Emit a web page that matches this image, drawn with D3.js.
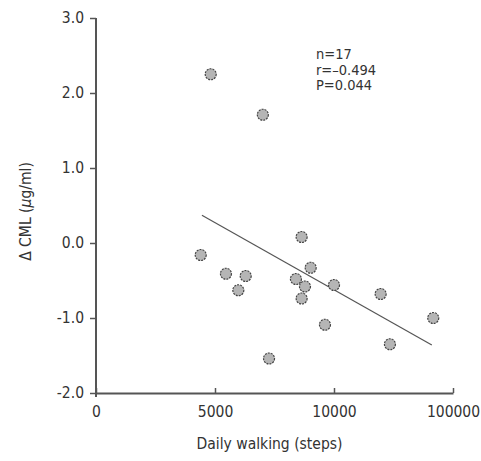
<!DOCTYPE html>
<html>
<head>
<meta charset="utf-8">
<script src="https://cdn.jsdelivr.net/npm/d3@7"></script>
<style>
  body { margin: 0; background: #fff; }
  text { font-family: "DejaVu Sans Condensed", "Liberation Sans Narrow", sans-serif; fill: #333; }
</style>
</head>
<body>
<div id="chart"></div>
<script>
// Daily walking steps vs change in CML
const steps = [4820, 7010, 4400, 5460, 6290, 5980, 8640, 9020, 8400, 8780, 8640, 10000, 9620, 7270, 11960, 14170, 12350];
const deltaCml = [2.25, 1.71, -0.16, -0.41, -0.44, -0.63, 0.08, -0.33, -0.48, -0.58, -0.74, -0.56, -1.09, -1.54, -0.68, -1.00, -1.35];

// regression line end points
const fitX = [4450, 14110];
const fitY = [0.37, -1.36];

const xTicks = [0, 5000, 10000, 15000];
const xTickLabels = ['0', '5000', '10000', '100000'];
const yTicks = [-2, -1, 0, 1, 2, 3];
const stats = ['n=17', 'r=\u20130.494', 'P=0.044'];

const width = 481, height = 461;
const margin = { top: 18, right: 28, bottom: 68, left: 96 };
const fs = '15.5px';

const svg = d3.select('#chart')
  .append('svg')
  .attr('width', width)
  .attr('height', height);

const x = d3.scaleLinear()
  .domain([0, 15000])
  .range([margin.left, width - margin.right]);

const y = d3.scaleLinear()
  .domain([-2, 3])
  .range([height - margin.bottom, margin.top]);

// y axis
const yAxis = svg.append('g')
  .attr('transform', `translate(${margin.left},0)`)
  .call(d3.axisLeft(y).tickValues(yTicks).tickSize(6).tickPadding(6)
    .tickFormat(d => d.toFixed(1)));

// x axis (ticks point inward)
const xAxis = svg.append('g')
  .attr('transform', `translate(0,${y(-2)})`)
  .call(d3.axisBottom(x).tickValues(xTicks).tickSize(-5).tickPadding(10).tickSizeOuter(0)
    .tickFormat((d, i) => xTickLabels[i]));

[xAxis, yAxis].forEach(g => {
  g.select('.domain').attr('stroke', '#555').attr('stroke-width', 2);
  g.selectAll('.tick line').attr('stroke', '#555').attr('stroke-width', 1.5);
  g.selectAll('.tick text').style('font-size', fs).attr('fill', '#333');
});
yAxis.select('.domain').attr('d', `M0,${y(3)}V${y(-2) + 4}`);
xAxis.selectAll('.tick text').attr('dy', '0.9em');

// axis titles
svg.append('text')
  .attr('x', (x(0) + x(15000)) / 2 - 5)
  .attr('y', 449)
  .attr('text-anchor', 'middle')
  .style('font-size', fs)
  .text('Daily walking (steps)');

const yLab = svg.append('text')
  .attr('transform', `translate(31,${(y(3) + y(-2)) / 2 + 6}) rotate(-90)`)
  .attr('text-anchor', 'middle')
  .style('font-size', fs);
yLab.append('tspan').text('\u0394 CML (');
yLab.append('tspan').style('font-style', 'italic').text('\u03bc');
yLab.append('tspan').text('g/ml)');

// regression line
svg.append('line')
  .attr('x1', x(fitX[0])).attr('y1', y(fitY[0]))
  .attr('x2', x(fitX[1])).attr('y2', y(fitY[1]))
  .attr('stroke', '#555')
  .attr('stroke-width', 1.2);

// points
svg.selectAll('.pt')
  .data(steps.map((s, i) => [s, deltaCml[i]]))
  .enter().append('circle')
  .attr('class', 'pt')
  .attr('cx', d => x(d[0]))
  .attr('cy', d => y(d[1]))
  .attr('r', 5.5)
  .attr('fill', '#b5b5b5')
  .attr('stroke', '#444')
  .attr('stroke-width', 1.2)
  .attr('stroke-dasharray', '2,1');

// stats annotation
svg.append('g')
  .selectAll('text')
  .data(stats)
  .enter().append('text')
  .attr('x', 316)
  .attr('y', (d, i) => 59 + i * 15.5)
  .style('font-size', '14.5px')
  .text(d => d);
</script>
</body>
</html>
